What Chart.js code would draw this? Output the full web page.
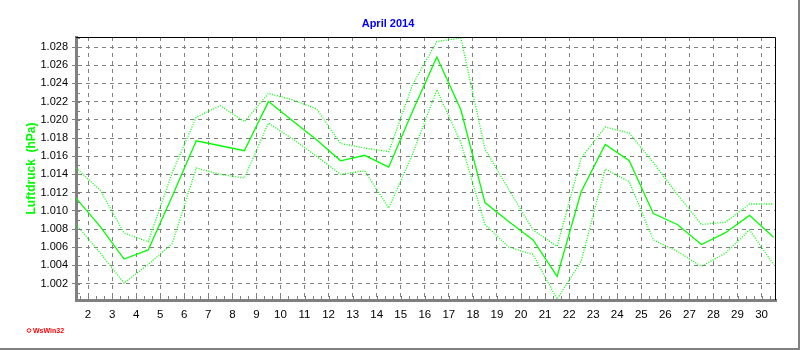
<!DOCTYPE html>
<html>
<head>
<meta charset="utf-8">
<script src="https://cdn.jsdelivr.net/npm/chart.js@4/dist/chart.umd.min.js"></script>
<style>
  html, body { margin: 0; padding: 0; background: #fff; }
  #wrap { width: 800px; height: 350px; }
</style>
</head>
<body>
<div id="wrap"><canvas id="c" width="800" height="350"></canvas></div>
<script>
// Tage im April 2014
var days = [1, 2, 3, 4, 5, 6, 7, 8, 9, 10, 11, 12, 13, 14, 15,
            16, 17, 18, 19, 20, 21, 22, 23, 24, 25, 26, 27, 28, 29, 30];

// Luftdruck in hPa: Tagesmittel, Maximum, Minimum
var mittel = [1011.4, 1008.3, 1004.7, 1005.7, 1011.6, 1017.7, 1017.15, 1016.6, 1022.0, 1019.9,
              1017.8, 1015.5, 1016.1, 1014.8, 1021.0, 1026.9, 1021.1, 1010.9, 1008.8, 1006.8,
              1002.8, 1012.1, 1017.3, 1015.5, 1009.7, 1008.5, 1006.3, 1007.6, 1009.5, 1007.1];
var maximum = [1014.7, 1012.3, 1007.55, 1006.6, 1014.2, 1020.3, 1021.55, 1019.8, 1022.9, 1022.2,
               1021.2, 1017.4, 1016.9, 1016.5, 1023.9, 1028.6, 1029.0, 1016.8, 1012.3, 1007.9,
               1006.1, 1015.8, 1019.2, 1018.55, 1015.3, 1011.8, 1008.5, 1008.75, 1010.75, 1010.75];
var minimum = [1008.5, 1005.4, 1002.05, 1004.1, 1006.4, 1014.7, 1014.0, 1013.6, 1019.65, 1017.9,
               1016.0, 1014.0, 1014.4, 1010.3, 1016.3, 1023.3, 1017.5, 1008.5, 1006.0, 1005.2,
               1000.3, 1004.45, 1014.6, 1013.2, 1006.8, 1005.55, 1003.9, 1005.35, 1007.9, 1004.1];

// Achsenbeschriftung
var xTicks = [2, 3, 4, 5, 6, 7, 8, 9, 10, 11, 12, 13, 14, 15, 16,
              17, 18, 19, 20, 21, 22, 23, 24, 25, 26, 27, 28, 29, 30];
var yTicks = [1002, 1004, 1006, 1008, 1010, 1012, 1014, 1016, 1018, 1020, 1022, 1024, 1026, 1028];

// Werte gelten für die Tagesmitte
function points(arr) {
    return days.map(function (d, i) { return { x: d + 0.5, y: arr[i] }; });
}

// 1028 -> "1.028"
function hpa(v) {
    var s = String(Math.round(v) % 1000);
    while (s.length < 3) s = '0' + s;
    return Math.floor(v / 1000) + '.' + s;
}

var FONT = 'Liberation Sans, Arial, sans-serif';

// Rahmen, Nebenstriche und Programmkennung
var extras = {
    id: 'extras',
    afterDraw: function (chart) {
        var ctx = chart.ctx, a = chart.chartArea;
        var xs = chart.scales.x, ys = chart.scales.y;
        ctx.save();
        // schwarzer Rahmen oben und rechts
        ctx.strokeStyle = '#000';
        ctx.lineWidth = 1;
        ctx.beginPath();
        ctx.moveTo(a.left, a.top + 0.5);
        ctx.lineTo(a.right - 0.5, a.top + 0.5);
        ctx.lineTo(a.right - 0.5, a.bottom);
        ctx.stroke();
        // kleine Striche
        ctx.strokeStyle = '#808080';
        ctx.beginPath();
        for (var k = 5; k <= 91; k++) {
            var v = k / 3;
            if (v < xs.min || v > xs.max) continue;
            var px = Math.round(xs.getPixelForValue(v)) + 0.5;
            ctx.moveTo(px, a.bottom - 1);
            ctx.lineTo(px, a.bottom - 4);
        }
        for (var h = 1001; h <= 1029; h++) {
            var py = Math.round(ys.getPixelForValue(h)) + 0.5;
            ctx.moveTo(a.left + 1, py);
            ctx.lineTo(a.left + 4, py);
        }
        ctx.stroke();
        // grauer Außenrahmen
        ctx.fillStyle = '#808080';
        ctx.fillRect(chart.width - 2, 0, 2, chart.height);
        ctx.fillRect(0, chart.height - 2, chart.width, 2);
        // WsWin32
        ctx.strokeStyle = '#ff0000';
        ctx.beginPath();
        ctx.arc(29, 330.5, 1.8, 0, Math.PI * 2);
        ctx.stroke();
        ctx.fillStyle = '#ff0000';
        ctx.font = 'bold 7px ' + FONT;
        ctx.textBaseline = 'middle';
        ctx.fillText('WsWin32', 33, 331);
        ctx.restore();
    }
};

new Chart(document.getElementById('c').getContext('2d'), {
    type: 'line',
    data: {
        datasets: [{
            label: 'Maximum',
            data: points(maximum),
            borderColor: '#00ff00',
            borderWidth: 1.3,
            borderDash: [1, 1.5],
            pointRadius: 0,
            fill: false
        }, {
            label: 'Mittel',
            data: points(mittel),
            borderColor: '#00ff00',
            borderWidth: 1.3,
            pointRadius: 0,
            fill: false
        }, {
            label: 'Minimum',
            data: points(minimum),
            borderColor: '#00ff00',
            borderWidth: 1.3,
            borderDash: [1, 1.5],
            pointRadius: 0,
            fill: false
        }]
    },
    options: {
        responsive: false,
        animation: false,
        layout: { padding: { left: 0, right: 24, top: 0, bottom: 0 } },
        plugins: {
            legend: { display: false },
            tooltip: { enabled: false },
            title: {
                display: true,
                text: 'April 2014',
                color: '#0000ff',
                font: { family: FONT, size: 11, weight: 'bold' },
                padding: { top: 17, bottom: 6.8 }
            }
        },
        scales: {
            x: {
                type: 'linear',
                min: 1.5,
                max: 30.6,
                afterBuildTicks: function (s) {
                    s.ticks = xTicks.map(function (v) { return { value: v }; });
                },
                afterFit: function (s) { s.height = 50; },
                ticks: {
                    autoSkip: false,
                    maxRotation: 0,
                    color: '#000',
                    padding: 8,
                    font: { family: FONT, size: 11.5 },
                    callback: function (v) { return String(v); }
                },
                grid: { color: '#808080', drawTicks: false },
                border: { color: '#808080', width: 3, dash: [4, 4] }
            },
            y: {
                min: 1000.2,
                max: 1029.1,
                afterBuildTicks: function (s) {
                    s.ticks = yTicks.map(function (v) { return { value: v }; });
                },
                afterFit: function (s) { s.width = 76; },
                ticks: {
                    color: '#000',
                    padding: 4,
                    font: { family: FONT, size: 11 },
                    callback: function (v) { return hpa(v); }
                },
                grid: { color: '#808080', tickLength: 4, tickBorderDash: [] },
                border: { color: '#808080', width: 3, dash: [4, 4] },
                title: {
                    display: true,
                    text: 'Luftdruck  (hPa)',
                    color: '#00ff00',
                    font: { family: FONT, size: 12, weight: 'bold' },
                    padding: { top: 24.3, bottom: 0 }
                }
            }
        }
    },
    plugins: [extras]
});
</script>
</body>
</html>
